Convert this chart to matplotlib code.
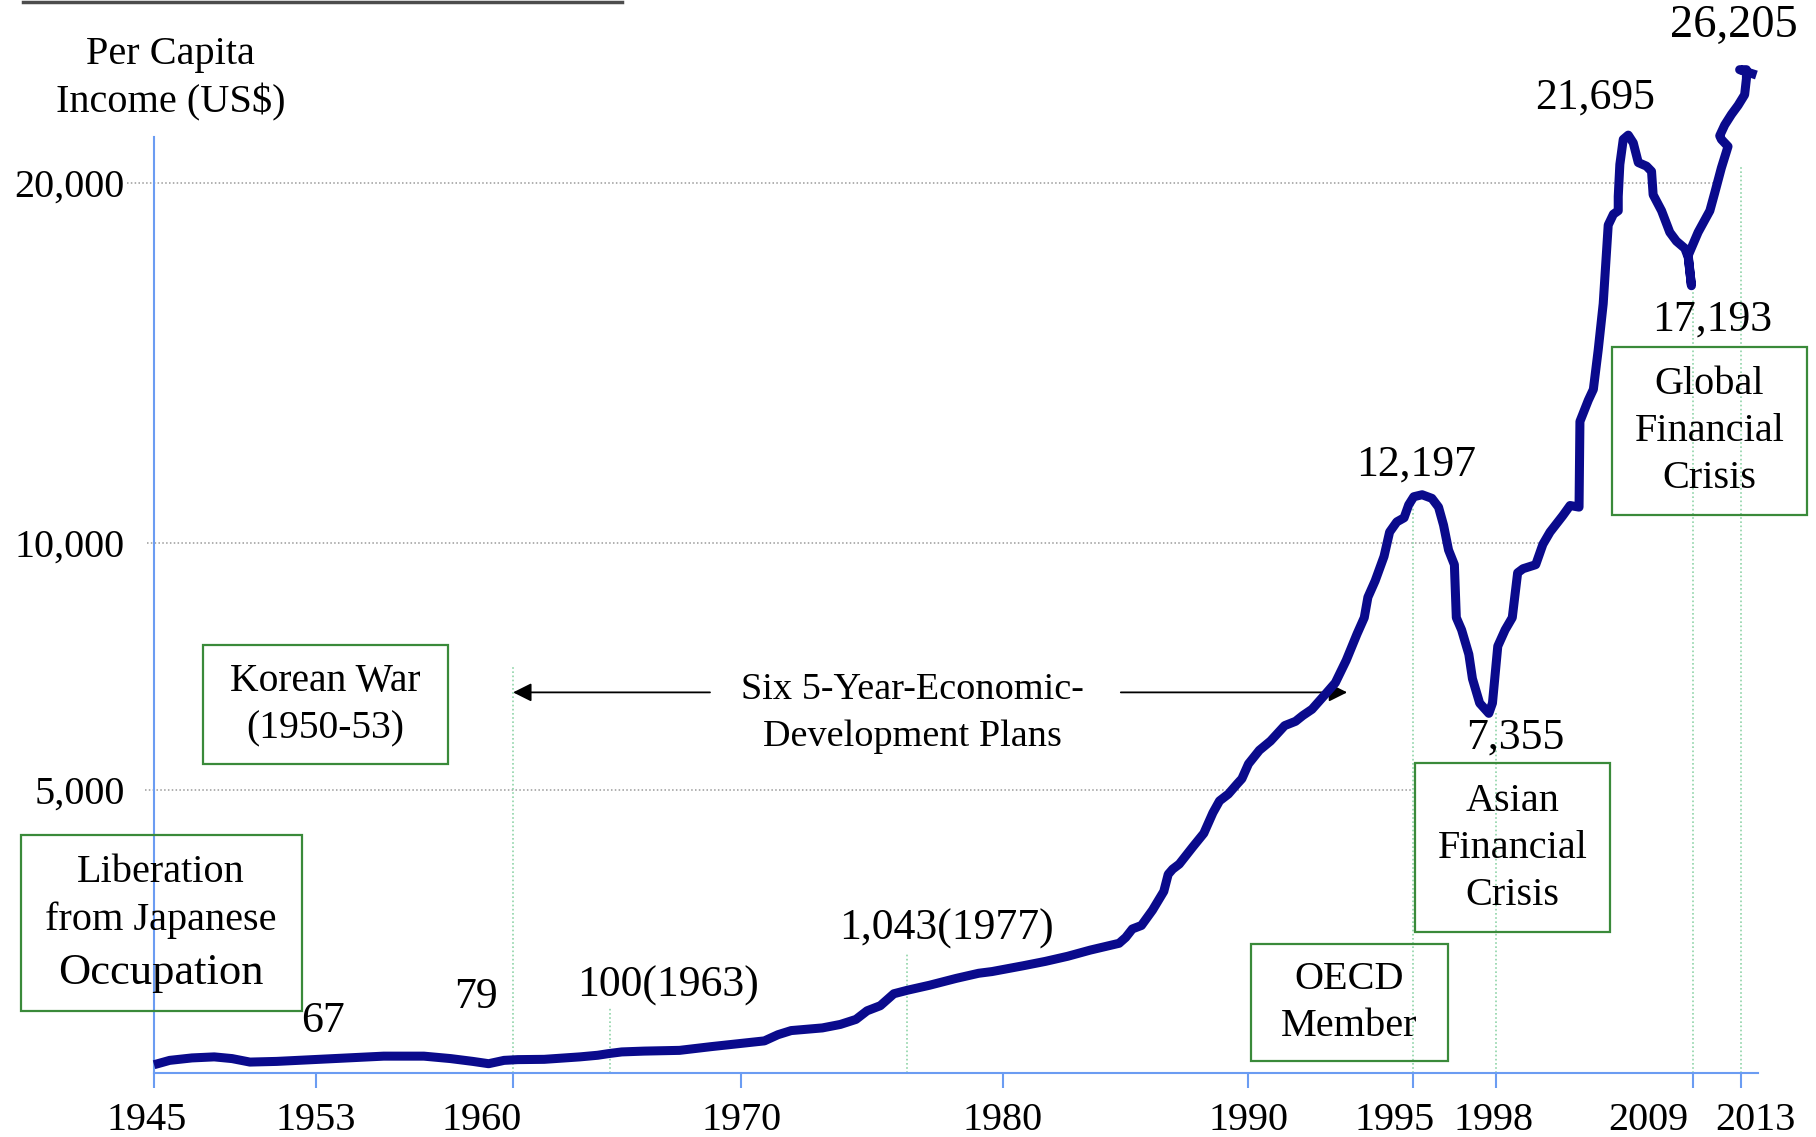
import numpy as np
import matplotlib.pyplot as plt
import matplotlib.transforms as mtransforms
from matplotlib.patches import Rectangle
from matplotlib.lines import Line2D

plt.rcParams['font.family'] = ['Liberation Serif', 'DejaVu Serif']

# per capita income (US$)
years = [1945.00, 1945.77, 1946.87, 1947.97, 1948.85, 1949.73, 1951.05, 1952.81, 1954.13, 1955.40,
         1956.83, 1957.78, 1958.57, 1959.13, 1959.68, 1960.14, 1960.96, 1962.06, 1962.61, 1962.94,
         1963.61, 1964.80, 1966.70, 1968.38, 1969.57, 1970.98, 1971.55, 1972.11, 1973.43, 1974.19,
         1974.85, 1975.32, 1975.88, 1976.45, 1977.01, 1977.71, 1978.54, 1979.24, 1979.66, 1980.82,
         1981.73, 1982.64, 1983.55, 1984.73, 1985.00, 1985.27, 1985.64, 1986.09, 1986.55, 1986.73,
         1986.91, 1987.18, 1987.73, 1988.18, 1988.55, 1988.82, 1989.18, 1989.54, 1989.73, 1990.00,
         1990.33, 1990.67, 1991.10, 1991.43, 1991.65, 1991.93, 1992.15, 1992.37, 1992.64, 1992.97,
         1993.30, 1993.52, 1993.63, 1993.85, 1994.12, 1994.29, 1994.51, 1994.73, 1994.87, 1995.03,
         1995.33, 1995.68, 1995.92, 1996.10, 1996.28, 1996.49, 1996.56, 1996.75, 1997.01, 1997.14,
         1997.40, 1997.73, 1997.86, 1998.08, 1998.49, 1998.89, 1999.19, 1999.49, 2000.20, 2000.60,
         2001.00, 2001.71, 2002.12, 2002.62, 2002.67, 2003.14, 2003.42, 2003.69, 2003.97, 2004.16,
         2004.25, 2004.54, 2004.81, 2004.81, 2004.90, 2005.09, 2005.37, 2005.65, 2005.93, 2006.39,
         2006.67, 2006.76, 2007.23, 2007.69, 2008.06, 2008.53, 2008.72, 2008.90, 2008.72, 2009.41,
         2010.40, 2010.81, 2011.37, 2011.93, 2011.37, 2011.23, 2011.65, 2012.22, 2012.78, 2013.33,
         2013.48, 2013.48, 2012.91, 2014.32]
income = [22, 81, 114, 128, 105, 58, 67, 91, 114, 138,
          138, 105, 67, 36, 81, 91, 95, 128, 150, 172,
          195, 206, 216, 266, 298, 344, 427, 483, 519, 566,
          634, 750, 819, 980, 1039, 1139, 1274, 1375, 1409, 1523,
          1610, 1711, 1832, 1967, 2083, 2250, 2319, 2621, 2991, 3329,
          3430, 3530, 3869, 4138, 4543, 4778, 4913, 5117, 5221, 5523,
          5798, 5986, 6298, 6385, 6502, 6629, 6793, 6960, 7167, 7620,
          8157, 8488, 8901, 9232, 9728, 10305, 10588, 10701, 11061, 11286,
          11341, 11241, 10997, 10498, 9859, 9561, 8488, 8239, 7744, 7249,
          6754, 6547, 6754, 7908, 8239, 8488, 9397, 9479, 9561, 9974,
          10305, 10759, 11042, 10997, 13376, 13968, 14267, 15357, 16646, 18135,
          18830, 19132, 19228, 19624, 20514, 21209, 21328, 21112, 20566, 20466,
          20322, 19672, 19228, 18630, 18383, 18183, 17936, 17145, 17987, 18630,
          19228, 19723, 20418, 21013, 21209, 21309, 21608, 21904, 22155, 22450,
          22894, 23145, 23145, 22997]

x_ticks = [1945, 1953, 1960, 1970, 1980, 1990, 1995, 1998, 2009, 2013]
y_ticks = [5000, 10000, 20000]
y_ticklabels = ['5,000', '10,000', '20,000']

# dotted guides
guide_years = [1960, 1963, 1977, 1995, 1998, 2009, 2013]
guide_tops = [7512, 797, 1777, 11190, 6573, 17138, 20482]
grid_starts = [1944.54, 1944.66, 1943.69]
grid_ends = [1995, 2000.6, 2010.66]
plan_value = 6972
plan_left = (1968.33, 1960)
plan_right = (1984.8, 1993)

# the original axes are hand drawn, spacing is uneven -> piecewise scales
x_knots = [1900, 1945, 1953, 1960, 1963, 1970, 1977, 1980, 1990, 1995, 1998, 2009, 2013, 2030]
x_pos = [-654.5, 133, 273, 443, 527, 640, 783, 866, 1078, 1220, 1292, 1462, 1503, 1677.25]
y_knots = [-1000, 0, 1000, 5000, 10000, 20000, 40000]
y_pos = [-58, 6, 70, 245, 458, 769, 1391]


def x_fwd(v):
    return np.interp(v, x_knots, x_pos)


def x_inv(p):
    return np.interp(p, x_pos, x_knots)


def y_fwd(v):
    return np.interp(v, y_knots, y_pos)


def y_inv(p):
    return np.interp(p, y_pos, y_knots)


W, H = 1568, 982  # layout grid of the reference picture


def fxy(px, py):
    return px / W, 1 - py / H


fig = plt.figure(figsize=(18.16, 11.37), dpi=100)
ax = fig.add_axes([133 / W, 1 - 927 / H, (1518 - 133) / W, 927 / H])
ax.set_xscale('function', functions=(x_fwd, x_inv))
ax.set_yscale('function', functions=(y_fwd, y_inv))
ax.set_xlim(x_inv(133), x_inv(1518))
ax.set_ylim(y_inv(0), y_inv(927))

blue = '#6b9cf2'
for s in ['top', 'right']:
    ax.spines[s].set_visible(False)
ax.spines['left'].set_color(blue)
ax.spines['bottom'].set_color(blue)
ax.spines['left'].set_linewidth(1.5)
ax.spines['bottom'].set_linewidth(1.5)
ax.spines['left'].set_bounds(y_inv(0), y_inv(927 - 118))

ax.set_xticks(x_ticks)
ax.set_xticklabels([str(y) for y in x_ticks], fontsize=29)
ax.set_yticks(y_ticks)
ax.set_yticklabels(y_ticklabels, fontsize=29)
ax.xaxis.set_minor_locator(plt.NullLocator())
ax.yaxis.set_minor_locator(plt.NullLocator())
ax.tick_params(axis='x', colors=blue, labelcolor='black', length=11, width=1.5, pad=10)
ax.tick_params(axis='y', length=0, pad=21)

# labels sit a little off their ticks in the original
label_shift = {1945: -0.069, 1960: -0.313, 1995: -0.185, 1998: -0.023, 2009: -0.452, 2013: 0.151}
for yr, lab in zip(x_ticks, ax.get_xticklabels()):
    dx = label_shift.get(yr, 0)
    if dx:
        lab.set_transform(lab.get_transform() + mtransforms.ScaledTranslation(dx, 0, fig.dpi_scale_trans))

# dotted grid
for lev, a, b in zip(y_ticks, grid_starts, grid_ends):
    ax.plot([a, b], [lev, lev], color='#9a9a9a', lw=1.1, ls=(0, (1, 1.5)), clip_on=False, zorder=1)

# dotted vertical guides
ax.vlines(guide_years, y_inv(0), guide_tops, colors='#8fd4a8', lw=1.2, linestyles=(0, (1, 1.5)), zorder=1)

ax.plot(years, income, color='#0a0a8c', lw=6.5, solid_joinstyle='round', solid_capstyle='butt',
        clip_on=False, zorder=3)

# five year plans arrows
for a, b in [plan_left, plan_right]:
    ax.annotate('', xy=(b, plan_value), xytext=(a, plan_value),
                arrowprops=dict(arrowstyle='-|>', color='black', lw=1.3,
                                mutation_scale=28, shrinkA=0, shrinkB=0), zorder=2)
fig.text(*fxy(788, 616), 'Six 5-Year-Economic-\nDevelopment Plans', fontsize=27.5,
         ha='center', va='center', linespacing=1.5)

# axis title
fig.text(*fxy(147, 68), 'Per Capita\nIncome (US$)', fontsize=29, ha='center', va='center',
         linespacing=1.36)

# top rule
fig.add_artist(Line2D([20 / W, 537 / W], [1 - 1.5 / H] * 2, color='#4d4d4d', lw=2.5))

# boxes
boxes = [(18, 721, 261, 873), (175, 557, 387, 660), (1080, 815, 1250, 916),
         (1222, 659, 1390, 805), (1392, 300, 1560, 445)]
for x0, y0, x1, y1 in boxes:
    fig.add_artist(Rectangle(fxy(x0, y1), (x1 - x0) / W, (y1 - y0) / H, transform=fig.transFigure,
                             fill=False, edgecolor='#3a8a3a', lw=1.6))

box_kw = dict(fontsize=29, ha='center', va='center', linespacing=1.36)
fig.text(*fxy(139, 774), 'Liberation\nfrom Japanese', **box_kw)
fig.text(*fxy(139, 840), 'Occupation', fontsize=32, ha='center', va='center')
fig.text(*fxy(281, 609), 'Korean War\n(1950-53)', **dict(box_kw, fontsize=28.5))
fig.text(*fxy(1165, 866), 'OECD\nMember', **box_kw)
fig.text(*fxy(1306, 733), 'Asian\nFinancial\nCrisis', **box_kw)
fig.text(*fxy(1476, 373), 'Global\nFinancial\nCrisis', **box_kw)

# value annotations
notes = [('67', 279, 882), ('79', 411, 861), ('100(1963)', 577, 851), ('1,043(1977)', 817, 802),
         ('12,197', 1223, 401), ('7,355', 1308, 637), ('21,695', 1377, 84), ('17,193', 1478, 276)]
for t, px, py in notes:
    fig.text(*fxy(px, py), t, fontsize=31.5, ha='center', va='center')
fig.text(*fxy(1497, 22), '26,205', fontsize=33.5, ha='center', va='center')

fig.savefig('out.png', dpi=100)
